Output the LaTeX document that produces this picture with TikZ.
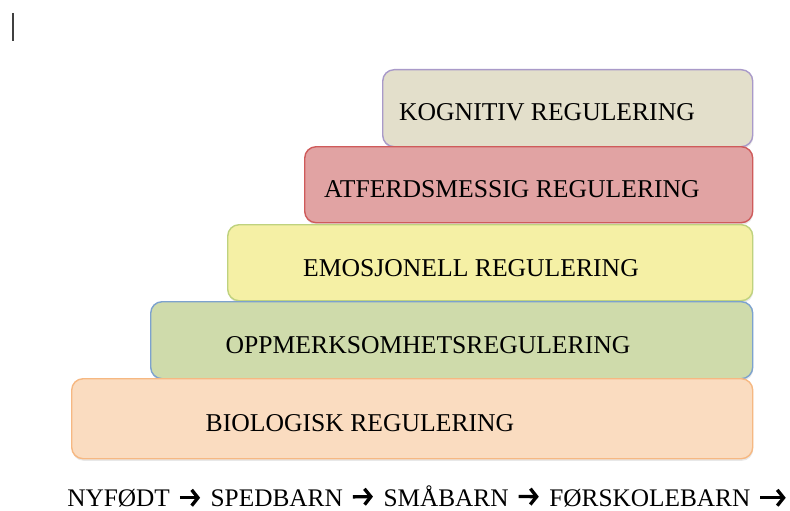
\documentclass[tikz,border=0pt]{standalone}
\usepackage{fontspec}
\setmainfont{Liberation Serif}
\usetikzlibrary{positioning,shadows,arrows.meta}

\definecolor{fillkog}{HTML}{E3DFCB}
\definecolor{linekog}{HTML}{A99AC9}
\definecolor{fillatf}{HTML}{E1A3A3}
\definecolor{lineatf}{HTML}{CF5B5B}
\definecolor{fillemo}{HTML}{F5F0A5}
\definecolor{lineemo}{HTML}{BFD27E}
\definecolor{fillopp}{HTML}{CFDBAB}
\definecolor{lineopp}{HTML}{7DA2CE}
\definecolor{fillbio}{HTML}{FADCC0}
\definecolor{linebio}{HTML}{F6B882}

\begin{document}
\begin{tikzpicture}[
				x=0.02cm, y=-0.02cm,
				node distance=0.8cm,
				levelbox/.style={anchor=north west, rounded corners=6.5pt, line width=0.8pt, inner sep=0pt,
						drop shadow={shadow xshift=0.3pt, shadow yshift=-1.2pt, opacity=0.18}},
				leveltext/.style={font=\fontsize{14.6}{17}\selectfont, inner sep=0pt},
				agetext/.style={font=\fontsize{14.4}{17}\selectfont, inner sep=0pt},
				agearrow/.style={line width=1.9pt, shorten <=5.5pt, shorten >=5.8pt,
						-{Straight Barb[length=3.6pt, width=9pt]}}
			]

			\clip (0,0) rectangle (790,510);

			% cursor mark
			\draw[line width=1.2pt, black!75] (13,13) -- (13,41);

			\def \right {752}

			\foreach \id/\l/\t/\h in {kog/382/69/77, atf/304/146/76, emo/227/224/76, opp/150/301/77, bio/71/378/80} {
					\node[levelbox, draw=line\id, fill=fill\id,
						minimum width={(\right-\l)*0.02cm}, minimum height={\h*0.02cm}] (\id) at (\l,\t) {};
				}

			\foreach \id/\x/\y/\txt in {kog/547/112/KOGNITIV REGULERING,
						atf/512/189/ATFERDSMESSIG REGULERING,
						emo/471/268/EMOSJONELL REGULERING,
						opp/428/345/OPPMERKSOMHETSREGULERING,
						bio/360/423/BIOLOGISK REGULERING} {
					\node[leveltext] (\id-text) at (\x,\y) {\txt};
				}

			\node[agetext, anchor=base west] (nyfodt) at (67,506) {NYFØDT};
			\node[agetext, base right=of nyfodt] (spedbarn) {SPEDBARN};
			\node[agetext, base right=of spedbarn] (smabarn) {SMÅBARN};
			\node[agetext, base right=of smabarn] (forskole) {FØRSKOLEBARN};
			\coordinate (slutt) at ([xshift=0.7cm]forskole.east);

			\draw[agearrow] (nyfodt) -- (spedbarn);
			\draw[agearrow] (spedbarn) -- (smabarn);
			\draw[agearrow] (smabarn) -- (forskole);
			\draw[agearrow, shorten >=0pt] (forskole) -- (slutt);

		\end{tikzpicture}
\end{document}
